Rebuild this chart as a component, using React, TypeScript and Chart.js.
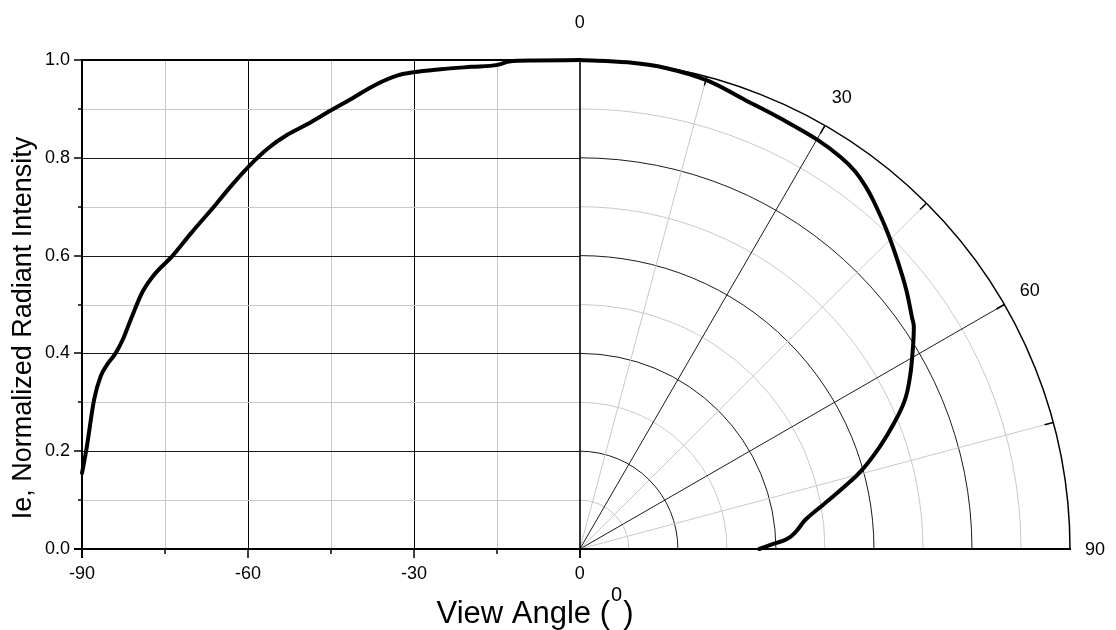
import React, { useEffect, useRef } from "react";
import { Chart, registerables } from "chart.js";

Chart.register(...registerables);

// ---- Data ----
// Left half: Cartesian, view angle (deg) vs normalized intensity
const leftAngles = [-90, -89.2, -87.8, -86.6, -85.4, -84.0, -82.6, -81.2, -79.1, -77.1, -73.6, -70.2, -66.0, -63.3, -59.8, -56.3, -52.9, -49.4, -45.3, -41.1, -37.0, -32.8, -30.1, -25.2, -19.7, -14.9, -12.8, -8.0, 0];
const leftIntensity = [0.155, 0.204, 0.306, 0.354, 0.378, 0.399, 0.429, 0.469, 0.525, 0.559, 0.600, 0.647, 0.702, 0.739, 0.783, 0.820, 0.847, 0.868, 0.895, 0.922, 0.949, 0.969, 0.975, 0.981, 0.986, 0.990, 0.997, 0.999, 1.0];

// Right half: polar, angle from vertical (deg) vs normalized intensity (radius)
const polarAngles = [0, 5.6, 10.2, 15.0, 20.2, 24.9, 30.1, 33.6, 36.0, 38.2, 40.0, 43.8, 47.6, 51.5, 55.0, 56.3, 60.3, 62.4, 65.3, 68.1, 71.1, 74.3, 76.7, 79.7, 82.6, 85.3, 87.2, 88.5, 90];
const polarIntensity = [1.0, 1.0, 0.999, 0.993, 0.978, 0.971, 0.967, 0.962, 0.955, 0.943, 0.931, 0.904, 0.877, 0.851, 0.827, 0.819, 0.780, 0.760, 0.730, 0.691, 0.647, 0.598, 0.555, 0.504, 0.464, 0.443, 0.424, 0.395, 0.366];

// Ticks / grid
const xTickValues = [-90, -60, -30, 0];
const xMinorTickValues = [-75, -45, -15];
const yTickValues = [0, 0.2, 0.4, 0.6, 0.8, 1.0];
const yMinorTickValues = [0.1, 0.3, 0.5, 0.7, 0.9];
const ringValues = [0.1, 0.2, 0.3, 0.4, 0.5, 0.6, 0.7, 0.8, 0.9];
const spokeAngles = [15, 30, 45, 60, 75];
const polarTickAngles = [15, 30, 45, 60, 75, 90];
const polarLabelAngles = [0, 30, 60, 90];

const xTitle = "View Angle (";
const xTitleSup = "0";
const xTitleEnd = ")";
const yTitle = "Ie, Normalized Radiant Intensity";

const X_MIN = -90;
const X_MAX = 88.6; // polar radius 1.0 expressed in x units

const FONT = "'Liberation Sans', Arial, sans-serif";
const GREY = "#c8c8c8";

const rad = (d: number) => (d * Math.PI) / 180;

const crisp = (v: number) => Math.round(v) + 0.5;

const chartDecor = {
  id: "chartDecor",
  beforeDatasetsDraw(chart: any) {
    const { ctx } = chart;
    const xs = chart.scales.x;
    const ys = chart.scales.y;
    const cx = xs.getPixelForValue(0);
    const cy = ys.getPixelForValue(0);
    const rx = xs.getPixelForValue(X_MAX) - cx;
    const ry = cy - ys.getPixelForValue(1);
    const left = xs.getPixelForValue(X_MIN);
    const top = ys.getPixelForValue(1);

    ctx.save();
    ctx.lineWidth = 1;

    // left cartesian vertical grid
    const vAll = [-75, -60, -45, -30, -15];
    vAll.forEach((v) => {
      const px = crisp(xs.getPixelForValue(v));
      ctx.strokeStyle = v % 30 === 0 ? "#000" : GREY;
      ctx.beginPath();
      ctx.moveTo(px, top);
      ctx.lineTo(px, cy);
      ctx.stroke();
    });

    // polar rings + horizontal grid on the left
    const drawRing = (r: number) => {
      const py = crisp(ys.getPixelForValue(r));
      ctx.beginPath();
      ctx.moveTo(left, py);
      ctx.lineTo(cx, py);
      ctx.stroke();
      ctx.beginPath();
      ctx.ellipse(cx, cy, rx * r, ry * r, 0, -Math.PI / 2, 0);
      ctx.stroke();
    };
    ctx.strokeStyle = GREY;
    ringValues.filter((_, i) => i % 2 === 0).forEach(drawRing);
    ctx.strokeStyle = "#000";
    ctx.lineWidth = 0.9;
    ringValues.filter((_, i) => i % 2 === 1).forEach(drawRing);

    // spokes
    spokeAngles.forEach((a) => {
      ctx.strokeStyle = a % 30 === 0 ? "#000" : GREY;
      ctx.lineWidth = a % 30 === 0 ? 0.9 : 1;
      ctx.beginPath();
      ctx.moveTo(cx, cy);
      ctx.lineTo(cx + rx * Math.sin(rad(a)), cy - ry * Math.cos(rad(a)));
      ctx.stroke();
    });

    // outer circle
    ctx.strokeStyle = "#000";
    ctx.lineWidth = 1.5;
    ctx.beginPath();
    ctx.ellipse(cx, cy, rx, ry, 0, -Math.PI / 2, 0);
    ctx.stroke();

    // polar ticks on outer circle (inward)
    ctx.lineWidth = 1.5;
    polarTickAngles.forEach((a) => {
      const s = Math.sin(rad(a));
      const c = Math.cos(rad(a));
      const L = 9;
      ctx.beginPath();
      ctx.moveTo(cx + rx * s, cy - ry * c);
      ctx.lineTo(cx + (rx - L) * s, cy - (ry - L) * c);
      ctx.stroke();
    });

    // top border (y=1.0) on left
    ctx.lineWidth = 2;
    ctx.beginPath();
    ctx.moveTo(left, Math.round(top));
    ctx.lineTo(cx, Math.round(top));
    ctx.stroke();

    // vertical zero line
    ctx.lineWidth = 1.6;
    ctx.beginPath();
    ctx.moveTo(Math.round(cx), top);
    ctx.lineTo(Math.round(cx), cy + 9);
    ctx.stroke();

    // left axis line
    ctx.lineWidth = 2;
    ctx.beginPath();
    ctx.moveTo(Math.round(left), top - 1);
    ctx.lineTo(Math.round(left), cy + 9);
    ctx.stroke();

    // bottom axis
    ctx.beginPath();
    ctx.moveTo(left - 8, Math.round(cy));
    ctx.lineTo(cx + rx + 1, Math.round(cy));
    ctx.stroke();

    // x ticks (down)
    ctx.lineWidth = 1.5;
    xTickValues.forEach((v) => {
      const px = Math.round(xs.getPixelForValue(v));
      ctx.beginPath();
      ctx.moveTo(px, cy);
      ctx.lineTo(px, cy + 9);
      ctx.stroke();
    });
    xMinorTickValues.forEach((v) => {
      const px = Math.round(xs.getPixelForValue(v));
      ctx.beginPath();
      ctx.moveTo(px, cy);
      ctx.lineTo(px, cy + 5);
      ctx.stroke();
    });
    // y ticks (left)
    yTickValues.forEach((v) => {
      const py = Math.round(ys.getPixelForValue(v));
      ctx.beginPath();
      ctx.moveTo(left, py);
      ctx.lineTo(left - 8, py);
      ctx.stroke();
    });
    yMinorTickValues.forEach((v) => {
      const py = Math.round(ys.getPixelForValue(v));
      ctx.beginPath();
      ctx.moveTo(left, py);
      ctx.lineTo(left - 4, py);
      ctx.stroke();
    });

    ctx.restore();
  },
  afterDraw(chart: any) {
    const { ctx } = chart;
    const xs = chart.scales.x;
    const ys = chart.scales.y;
    const cx = xs.getPixelForValue(0);
    const cy = ys.getPixelForValue(0);
    const rx = xs.getPixelForValue(X_MAX) - cx;
    const ry = cy - ys.getPixelForValue(1);

    ctx.save();
    ctx.fillStyle = "#000";

    // polar angle labels
    ctx.font = `18px ${FONT}`;
    ctx.textAlign = "center";
    ctx.textBaseline = "middle";
    polarLabelAngles.forEach((a) => {
      const f = 1.077 - 0.026 * (a / 90);
      const s = Math.sin(rad(a));
      const c = Math.cos(rad(a));
      ctx.fillText(String(a), cx + rx * f * s, cy - ry * f * c + 1);
    });

    // x title with superscript
    const mainFont = `31px ${FONT}`;
    const supFont = `20px ${FONT}`;
    ctx.textAlign = "left";
    ctx.textBaseline = "alphabetic";
    ctx.font = mainFont;
    const w1 = ctx.measureText(xTitle).width;
    const w3 = ctx.measureText(xTitleEnd).width;
    ctx.font = supFont;
    const w2 = ctx.measureText(xTitleSup).width + 2;
    const total = w1 + w2 + w3;
    const startX = 535 - total / 2;
    const baseY = 623;
    ctx.font = mainFont;
    ctx.fillText(xTitle, startX, baseY);
    ctx.font = supFont;
    ctx.fillText(xTitleSup, startX + w1 + 1, baseY - 22);
    ctx.font = mainFont;
    ctx.fillText(xTitleEnd, startX + w1 + w2, baseY);

    // y title
    ctx.font = `27px ${FONT}`;
    ctx.textAlign = "center";
    ctx.translate(31, 328);
    ctx.rotate(-Math.PI / 2);
    ctx.fillText(yTitle, 0, 0);

    ctx.restore();
  },
};

export default function App() {
  const canvasRef = useRef<HTMLCanvasElement | null>(null);

  useEffect(() => {
    const canvas = canvasRef.current;
    if (!canvas) return;

    const leftData = leftAngles.map((a, i) => ({ x: a, y: leftIntensity[i] }));
    const polarData = polarAngles.map((a, i) => ({
      x: X_MAX * polarIntensity[i] * Math.sin(rad(a)),
      y: polarIntensity[i] * Math.cos(rad(a)),
    }));

    const chart = new Chart(canvas, {
      type: "scatter",
      data: {
        datasets: [
          {
            data: leftData,
            showLine: true,
            borderColor: "#000",
            borderWidth: 4,
            pointRadius: 0,
            cubicInterpolationMode: "monotone",
            borderCapStyle: "round",
            borderJoinStyle: "round",
            clip: 10,
          } as any,
          {
            data: polarData,
            showLine: true,
            borderColor: "#000",
            borderWidth: 4,
            pointRadius: 0,
            tension: 0.4,
            borderCapStyle: "round",
            borderJoinStyle: "round",
            clip: 10,
          } as any,
        ],
      },
      options: {
        responsive: false,
        animation: false,
        layout: { padding: { top: 60, right: 46, left: 0, bottom: 0 } },
        plugins: { legend: { display: false }, tooltip: { enabled: false } },
        scales: {
          x: {
            type: "linear",
            min: X_MIN,
            max: X_MAX,
            grid: { display: false, drawTicks: false },
            border: { display: false },
            afterBuildTicks: (s: any) => {
              s.ticks = xTickValues.map((v) => ({ value: v }));
            },
            afterFit: (s: any) => {
              s.height = 81;
            },
            ticks: {
              padding: 14,
              color: "#000",
              autoSkip: false,
              maxRotation: 0,
              font: { family: FONT, size: 18 },
              callback: (v: any) => String(v),
            },
          },
          y: {
            type: "linear",
            min: 0,
            max: 1,
            grid: { display: false, drawTicks: false },
            border: { display: false },
            afterBuildTicks: (s: any) => {
              s.ticks = yTickValues.map((v) => ({ value: v }));
            },
            afterFit: (s: any) => {
              s.width = 82;
            },
            ticks: {
              padding: 12,
              color: "#000",
              autoSkip: false,
              font: { family: FONT, size: 18 },
              callback: (v: any) => Number(v).toFixed(1),
            },
          },
        },
      },
      plugins: [chartDecor],
    });

    return () => chart.destroy();
  }, []);

  return (
    <div style={{ position: "absolute", left: 0, top: 0, width: 1116, height: 630, background: "#fff" }}>
      <canvas ref={canvasRef} width={1116} height={630} />
    </div>
  );
}
